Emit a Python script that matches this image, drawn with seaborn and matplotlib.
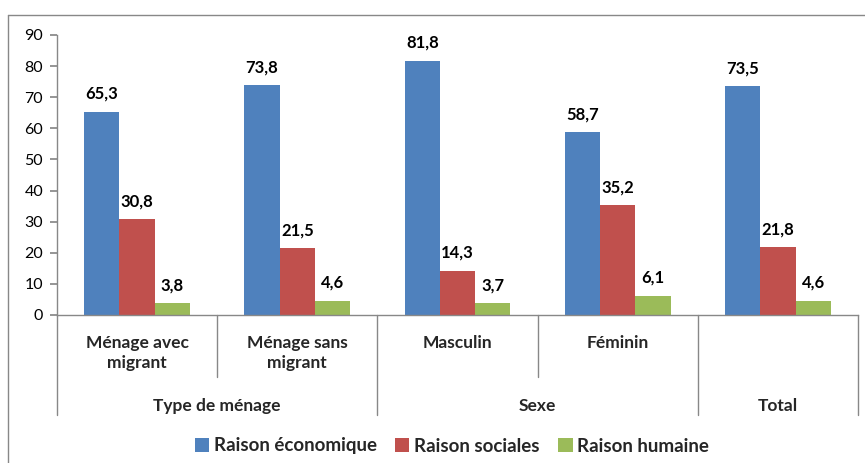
import numpy as np
import pandas as pd
import matplotlib
matplotlib.use('Agg')
import matplotlib.pyplot as plt
import matplotlib.transforms as mtransforms
from matplotlib.lines import Line2D
from matplotlib.patches import Patch
import seaborn as sns

# Data
categories = ['Ménage avec migrant', 'Ménage sans migrant', 'Masculin', 'Féminin', 'Total']
cat_labels = ['Ménage avec\nmigrant', 'Ménage sans\nmigrant', 'Masculin', 'Féminin', '']
groups = ['Type de ménage', 'Sexe', 'Total']
group_spans = [(0, 2), (2, 4), (4, 5)]   # category index ranges per group
series = ['Raison économique', 'Raison sociales', 'Raison humaine']
economique = [65.3, 73.8, 81.8, 58.7, 73.5]
sociales = [30.8, 21.5, 14.3, 35.2, 21.8]
humaine = [3.8, 4.6, 3.7, 6.1, 4.6]
colors = ['#4F81BD', '#C0504D', '#9BBB59']

df = pd.DataFrame({
    'cat': categories * 3,
    'serie': [s for s in series for _ in categories],
    'val': economique + sociales + humaine,
})

sns.set_theme(style='white')
plt.rcParams['font.family'] = ['Lato', 'DejaVu Sans']

fig = plt.figure(figsize=(8.65, 4.63), dpi=100)
ax = fig.add_axes([57 / 865, 1 - 315 / 463, (858 - 57) / 865, 280 / 463])

sns.barplot(data=df, x='cat', y='val', hue='serie', palette=colors,
            width=0.66, saturation=1, ax=ax, legend=False, order=categories,
            linewidth=0, edgecolor='none')

ax.set_ylim(0, 90)
ax.set_xlim(-0.5, len(categories) - 0.5)
ax.set_yticks(range(0, 91, 10))
ax.tick_params(axis='y', left=True, length=5, color='#888888', labelsize=11.5,
               labelcolor='black', pad=5)
ax.set_xticks([])
ax.set_xlabel('')
ax.set_ylabel('')
for side in ['top', 'right']:
    ax.spines[side].set_visible(False)
for side in ['left', 'bottom']:
    ax.spines[side].set_color('#888888')
    ax.spines[side].set_linewidth(1)

# value labels
for cont in ax.containers:
    for bar in cont:
        h = bar.get_height()
        ax.annotate(f'{h:.1f}'.replace('.', ','),
                    (bar.get_x() + bar.get_width() / 2, h),
                    xytext=(0, 13), textcoords='offset points',
                    ha='center', va='center', fontsize=12, fontweight='bold',
                    color='black')

# multi-level category axis
trans = mtransforms.blended_transform_factory(ax.transData, ax.transAxes)
y1 = -(377 - 315) / 280
y2 = -(415 - 315) / 280
for i, lab in enumerate(cat_labels):
    ax.text(i, -(335 - 315) / 280, lab, transform=trans, ha='center', va='top',
            fontsize=12.5, fontweight='bold', linespacing=1.3)
outer = {-0.5}
for a, b in group_spans:
    outer.add(b - 0.5)
for k in range(len(categories) + 1):
    x = k - 0.5
    bottom = y2 if x in outer else y1
    ax.add_line(Line2D([x, x], [0, bottom], transform=trans, color='#888888',
                       lw=1, clip_on=False))
for g, (a, b) in zip(groups, group_spans):
    ax.text((a + b - 1) / 2, -(406 - 315) / 280, g, transform=trans,
            ha='center', va='center', fontsize=12.5, fontweight='bold')

# outer chart frame (top and left edges visible)
fig.add_artist(Line2D([8 / 865, 1], [1 - 15 / 463, 1 - 15 / 463],
                      transform=fig.transFigure, color='#888888', lw=1))
fig.add_artist(Line2D([8 / 865, 8 / 865], [0, 1 - 15 / 463],
                      transform=fig.transFigure, color='#888888', lw=1))

handles = [Patch(facecolor=c, edgecolor='none') for c in colors]
fig.legend(handles, series, loc='center', bbox_to_anchor=(452 / 865, 1 - 446 / 463),
           ncol=3, frameon=False, handlelength=0.75, handleheight=0.75,
           handletextpad=0.25, columnspacing=1.0,
           prop={'size': 13.5, 'weight': 'bold'})

fig.savefig('out.png', dpi=100, facecolor='white')
